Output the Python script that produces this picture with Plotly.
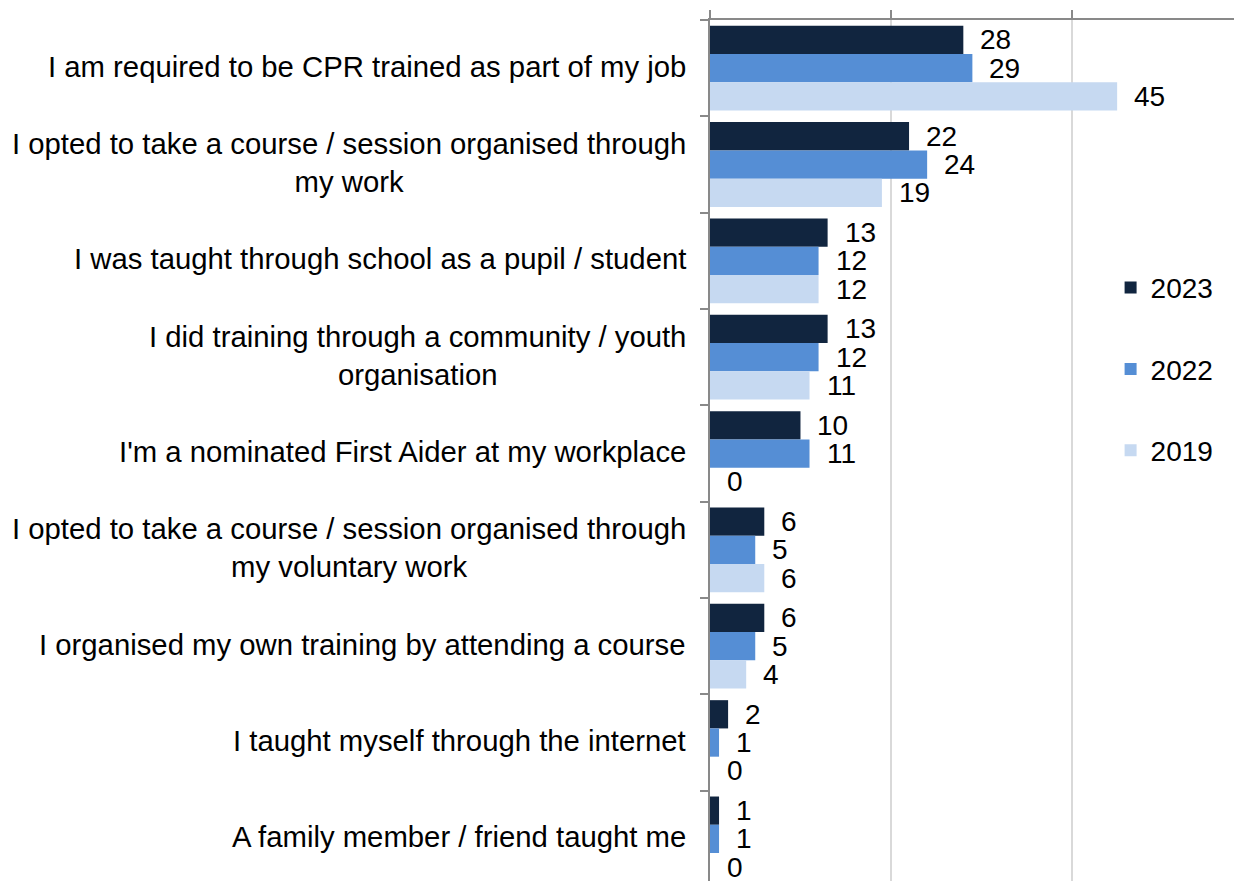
import plotly.graph_objects as go

categories = [
    "I am required to be CPR trained as part of my job",
    "I opted to take a course / session organised through<br>my work",
    "I was taught through school as a pupil / student",
    "I did training through a community / youth<br>organisation",
    "I'm a nominated First Aider at my workplace",
    "I opted to take a course / session organised through<br>my voluntary work",
    "I organised my own training by attending a course",
    "I taught myself through the internet",
    "A family member / friend taught me",
]
series_names = ["2023", "2022", "2019"]
values_2023 = [28, 22, 13, 13, 10, 6, 6, 2, 1]
values_2022 = [29, 24, 12, 12, 11, 5, 5, 1, 1]
values_2019 = [45, 19, 12, 11, 0, 6, 4, 0, 0]
colors = ["#11253F", "#558ED5", "#C6D9F1"]

cat_ids = [f"c{i}" for i in range(len(categories))]
all_values = [values_2023, values_2022, values_2019]

# the page body has an 8px default margin; size the figure to fill the window
W, H = 1234, 873
ML, MT = 702, 12
plot_h = H - MT
y_lo, y_hi = -0.5, 8.437
cat_px = plot_h / (y_hi - y_lo)
bargap = 0.12
bar_px = cat_px * (1 - bargap) / 3

FONT = "Liberation Sans, Arial, sans-serif"

fig = go.Figure()
for name, vals, col in zip(series_names, all_values, colors):
    fig.add_trace(go.Bar(
        name=name, y=cat_ids, x=vals, orientation="h",
        marker=dict(color=col, line=dict(width=0)),
        legendgroup=name,
    ))

annotations = []
# value labels
for k, vals in enumerate(all_values):
    shift = (1 - k) * bar_px
    for cid, v in zip(cat_ids, vals):
        annotations.append(dict(
            x=v, y=cid, xref="x", yref="y", text=str(v), showarrow=False,
            xanchor="left", yanchor="middle", xshift=15, yshift=shift,
            font=dict(family=FONT, size=28, color="#000000"),
        ))
# category labels (centered multi-line)
for cid, lab in zip(cat_ids, categories):
    annotations.append(dict(
        x=0, y=cid, xref="paper", yref="y", text=lab, showarrow=False,
        xanchor="right", yanchor="middle", xshift=-22, yshift=2, align="center",
        font=dict(family=FONT, size=29.3, color="#000000"),
    ))

fig.update_layout(
    width=W, height=H,
    margin=dict(l=ML, r=0, t=MT, b=0, pad=0),
    paper_bgcolor="white", plot_bgcolor="white",
    barmode="group", bargap=bargap, bargroupgap=0,
    font=dict(family=FONT, size=28, color="#000000"),
    showlegend=True,
    legend=dict(
        x=0.753, xanchor="left", y=0.718, yanchor="top",
        font=dict(family=FONT, size=28, color="#000000"),
        traceorder="grouped", tracegroupgap=42,
        bgcolor="rgba(0,0,0,0)", borderwidth=0,
        itemwidth=30,
    ),
    xaxis=dict(
        side="top", range=[0, 58.8], dtick=20, tick0=0,
        showgrid=True, gridcolor="#D9D9D9", gridwidth=2,
        showline=True, linecolor="#898989", linewidth=2,
        ticks="outside", ticklen=8, tickcolor="#898989", tickwidth=2,
        showticklabels=False, zeroline=False,
    ),
    yaxis=dict(
        type="category", categoryorder="array", categoryarray=cat_ids,
        range=[y_hi, y_lo],
        showgrid=False, showline=True, linecolor="#898989", linewidth=2,
        ticks="outside", ticklen=8, tickcolor="#898989", tickwidth=2,
        tickson="boundaries", showticklabels=False, zeroline=False,
    ),
    annotations=annotations,
)

fig.write_html("out.html")
